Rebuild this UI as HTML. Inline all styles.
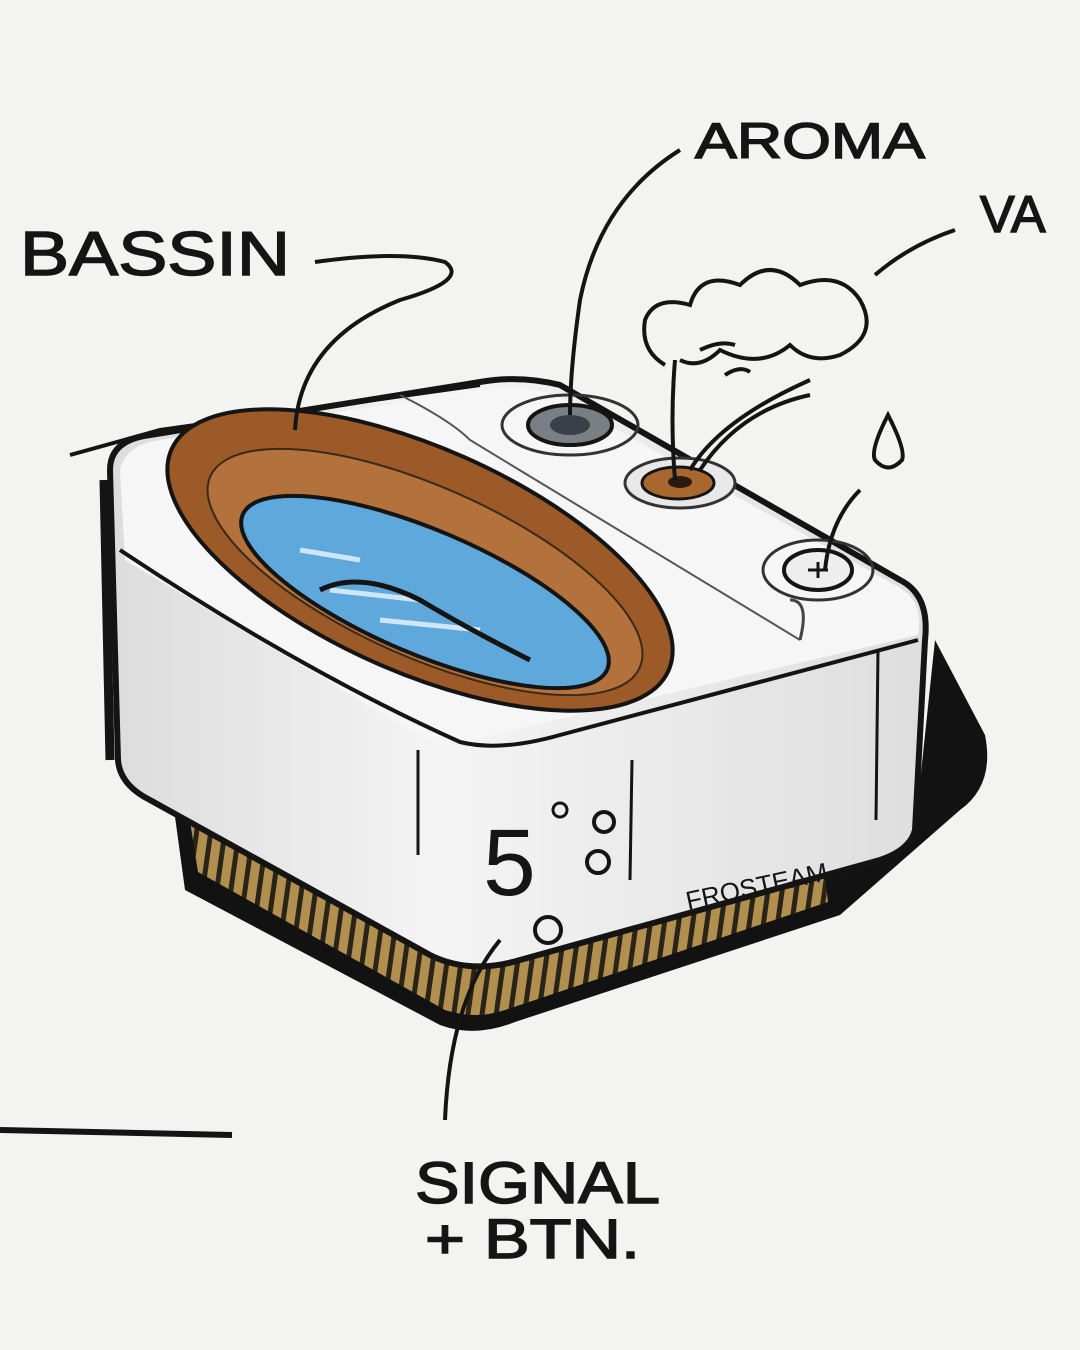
<!DOCTYPE html>
<html><head><meta charset="utf-8"><style>
html,body{margin:0;padding:0;background:#f3f3f1}
svg{display:block}
text{font-family:"Liberation Sans",sans-serif;fill:#151515}
</style></head><body>
<svg width="1080" height="1350" viewBox="0 0 1080 1350" xmlns="http://www.w3.org/2000/svg">
<defs>
<pattern id="gr" width="14" height="20" patternUnits="userSpaceOnUse" patternTransform="rotate(8)">
<rect width="14" height="20" fill="#b08f4f"/><rect width="5" height="20" fill="#2a2418"/>
</pattern>
<linearGradient id="bd" x1="0" y1="0" x2="1" y2="0">
<stop offset="0" stop-color="#dcdcdc"/><stop offset="0.4" stop-color="#f4f4f4"/><stop offset="1" stop-color="#dedede"/>
</linearGradient>
</defs>
<rect width="1080" height="1350" fill="#f3f3f1"/>

<!-- base dark -->
<path d="M170,780 L185,890 L440,1025 Q475,1038 515,1022 L840,915 L960,810 Q995,785 985,735 L935,640 L915,830 Z" fill="#121212"/>
<path d="M185,790 L198,872 L445,1010 Q475,1020 505,1010 L828,902 L822,850 Z" fill="url(#gr)"/>

<!-- body -->
<path d="M110,470 Q110,440 150,435 L480,382 Q520,375 560,385 L900,580 Q930,595 925,640 L915,830 Q910,850 880,860 L520,960 Q470,975 430,955 L150,800 Q120,785 118,760 Z" fill="url(#bd)" stroke="#141414" stroke-width="6"/>
<path d="M104,480 L110,760" stroke="#141414" stroke-width="9"/>
<!-- top surface -->
<path d="M120,470 Q125,445 160,440 L480,390 Q520,384 555,395 L895,585 Q925,600 918,635 L470,740 Q440,745 410,730 L125,560 Z" fill="#f6f6f6"/>
<path d="M120,550 Q300,670 460,742 Q500,752 560,735 L918,640" fill="none" stroke="#141414" stroke-width="4"/>
<path d="M70,455 L160,430 L480,385" fill="none" stroke="#141414" stroke-width="4"/>
<path d="M400,395 Q450,420 470,440 L800,640" fill="none" stroke="#555" stroke-width="2"/>
<path d="M800,640 Q810,600 790,600" fill="none" stroke="#444" stroke-width="3"/>
<path d="M418,750 L418,855 M632,760 L630,880 M878,650 L876,820" stroke="#141414" stroke-width="3"/>

<!-- basin -->
<ellipse cx="420" cy="560" rx="272" ry="112" transform="rotate(24 420 560)" fill="#9b5a28" stroke="#141414" stroke-width="4"/>
<ellipse cx="425" cy="572" rx="235" ry="85" transform="rotate(24 425 572)" fill="#b3713c" stroke="#3a2a1a" stroke-width="2"/>
<ellipse cx="425" cy="592" rx="198" ry="62" transform="rotate(23 425 592)" fill="#5ea8dc" stroke="#141414" stroke-width="4"/>
<path d="M300,550 L360,560 M330,590 L420,600 M380,620 L480,630" stroke="#cfe6f6" stroke-width="5"/>
<path d="M320,590 Q360,570 420,600 Q470,630 530,660" fill="none" stroke="#141414" stroke-width="5"/>

<!-- aroma knob -->
<ellipse cx="570" cy="425" rx="68" ry="30" fill="none" stroke="#333" stroke-width="3"/>
<ellipse cx="570" cy="425" rx="42" ry="20" fill="#7a7f86" stroke="#141414" stroke-width="4"/>
<ellipse cx="570" cy="425" rx="20" ry="10" fill="#3b4048"/>
<!-- vapor outlet -->
<ellipse cx="680" cy="483" rx="55" ry="25" fill="#e8e8e8" stroke="#333" stroke-width="3"/>
<ellipse cx="678" cy="483" rx="36" ry="16" fill="#a8672f" stroke="#141414" stroke-width="3"/>
<ellipse cx="680" cy="482" rx="12" ry="6" fill="#2a1a10"/>
<!-- button -->
<ellipse cx="818" cy="570" rx="55" ry="30" fill="none" stroke="#333" stroke-width="3"/>
<ellipse cx="818" cy="570" rx="34" ry="20" fill="#eee" stroke="#141414" stroke-width="4"/>
<path d="M808,570 h20 M818,562 v16" stroke="#141414" stroke-width="3"/>
<!-- drop -->
<path d="M888,415 Q870,450 875,460 Q888,475 902,460 Q906,450 888,415 Z" fill="none" stroke="#141414" stroke-width="4"/>
<path d="M860,490 Q830,520 825,570" fill="none" stroke="#141414" stroke-width="4"/>
<!-- steam -->
<path d="M675,480 Q670,420 675,360 M690,470 Q720,420 810,380 M700,470 Q740,410 810,395" fill="none" stroke="#141414" stroke-width="4"/>
<path d="M665,365 Q640,350 645,320 Q655,295 690,305 Q700,270 740,285 Q770,255 800,285 Q840,270 860,300 Q880,335 840,355 Q810,365 790,345 Q760,370 720,350 Q700,370 680,360" fill="none" stroke="#141414" stroke-width="4"/>
<path d="M700,350 Q720,340 735,345 M725,375 Q740,365 750,372" fill="none" stroke="#141414" stroke-width="4"/>

<!-- display -->
<text x="483" y="895" font-size="95">5</text>
<circle cx="560" cy="810" r="7" fill="none" stroke="#141414" stroke-width="3"/>
<circle cx="604" cy="822" r="10" fill="none" stroke="#141414" stroke-width="4"/>
<circle cx="598" cy="862" r="11" fill="none" stroke="#141414" stroke-width="4"/>
<circle cx="548" cy="930" r="13" fill="none" stroke="#141414" stroke-width="4"/>
<text x="688" y="910" font-size="26" transform="rotate(-12 688 910)">FROSTEAM</text>

<!-- leaders -->
<path d="M315,262 Q400,250 445,262 Q470,280 400,300 Q300,340 295,430" fill="none" stroke="#141414" stroke-width="4"/>
<path d="M680,150 Q600,200 580,300 Q570,370 570,415" fill="none" stroke="#141414" stroke-width="4"/>
<path d="M955,230 Q910,245 875,275" fill="none" stroke="#141414" stroke-width="4"/>
<path d="M500,940 Q450,1000 445,1120" fill="none" stroke="#141414" stroke-width="4"/>
<path d="M0,1130 L232,1135" stroke="#141414" stroke-width="6"/>

<!-- labels -->
<g stroke="#151515" stroke-width="1.5">
<text x="20" y="275" font-size="62" textLength="270" lengthAdjust="spacingAndGlyphs">BASSIN</text>
<text x="695" y="158" font-size="50" textLength="230" lengthAdjust="spacingAndGlyphs">AROMA</text>
<text x="980" y="232" font-size="52">VA</text>
<text x="415" y="1203" font-size="58" textLength="245" lengthAdjust="spacingAndGlyphs">SIGNAL</text>
<text x="425" y="1258" font-size="56" textLength="215" lengthAdjust="spacingAndGlyphs">+ BTN.</text>
</g>
</svg>
</body></html>
